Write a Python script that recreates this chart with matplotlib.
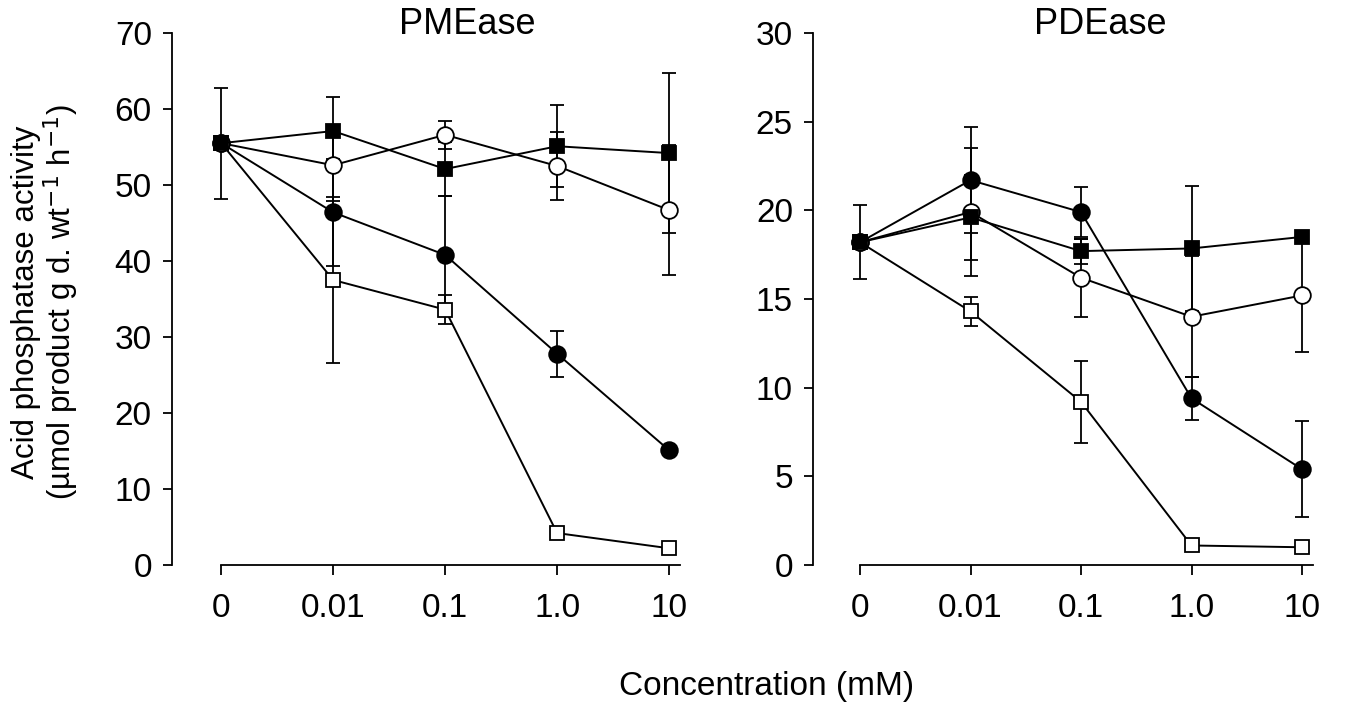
import matplotlib
matplotlib.use("Agg")
import matplotlib.pyplot as plt
import numpy as np

plt.rcParams["font.family"] = ["Liberation Sans", "DejaVu Sans"]

# x categories (evenly spaced, not log)
conc_labels = ["0", "0.01", "0.1", "1.0", "10"]

# PMEase
pme_fsq = [55.5, 57.1, 52.1, 55.1, 54.2]
pme_fsq_err = [7.3, 4.5, 3.6, 5.4, 10.5]
pme_oci = [55.5, 52.6, 56.6, 52.5, 46.7]
pme_oci_err = [0, 4.7, 1.8, 4.5, 8.5]
pme_fci = [55.5, 46.4, 40.8, 27.8, 15.1]
pme_fci_err = [0, 7.0, 7.7, 3.0, 0]
pme_osq = [55.5, 37.5, 33.6, 4.2, 2.2]
pme_osq_err = [0, 10.9, 1.9, 0, 0]

# PDEase
pde_fsq = [18.2, 19.6, 17.7, 17.85, 18.5]
pde_fsq_err = [2.1, 2.4, 0.7, 3.5, 0]
pde_oci = [18.2, 19.9, 16.2, 14.0, 15.2]
pde_oci_err = [0, 3.6, 2.2, 3.4, 3.2]
pde_fci = [18.2, 21.7, 19.9, 9.4, 5.4]
pde_fci_err = [0, 3.0, 1.4, 1.2, 2.7]
pde_osq = [18.2, 14.3, 9.2, 1.1, 1.0]
pde_osq_err = [0, 0.8, 2.3, 0, 0]

x = np.arange(len(conc_labels))

fig = plt.figure(figsize=(13.56, 7.05), dpi=100)
ax1 = fig.add_axes([0.1268, 0.1986, 0.379, 0.7546])
ax2 = fig.add_axes([0.5996, 0.1986, 0.3728, 0.7546])

styles = [
    ("s", "white"),   # open square
    ("o", "black"),   # filled circle
    ("o", "white"),   # open circle
    ("s", "black"),   # filled square
]


def draw_panel(ax, series, ymax, ystep, xl):
    for (vals, err), (mk, fc) in zip(series, styles):
        ax.errorbar(x, vals, yerr=err, color="black", marker=mk, markerfacecolor=fc,
                    markeredgecolor="black", markersize=12 if mk == "o" else 10.5,
                    markeredgewidth=1.3, linewidth=1.4, elinewidth=1.3,
                    capsize=5, capthick=1.3, clip_on=False)
    ax.set_ylim(0, ymax)
    ax.set_yticks(np.arange(0, ymax + 1, ystep))
    ax.set_xlim(xl, 4.15)
    ax.set_xticks(x)
    ax.set_xticklabels(conc_labels)
    ax.spines["top"].set_visible(False)
    ax.spines["right"].set_visible(False)
    ax.spines["bottom"].set_bounds(0, 4.1)
    for s in ("left", "bottom"):
        ax.spines[s].set_linewidth(1.3)
    ax.tick_params(axis="x", length=7, width=1.3, pad=13, labelsize=24)
    ax.tick_params(axis="y", length=6.5, width=1.3, pad=8, labelsize=24)


draw_panel(ax1, [(pme_osq, pme_osq_err), (pme_fci, pme_fci_err),
                 (pme_oci, pme_oci_err), (pme_fsq, pme_fsq_err)], 70, 10, -0.44)
draw_panel(ax2, [(pde_osq, pde_osq_err), (pde_fci, pde_fci_err),
                 (pde_oci, pde_oci_err), (pde_fsq, pde_fsq_err)], 30, 5, -0.425)

fig.text(467 / 1356, 1 - 24 / 705, "PMEase", fontsize=26, ha="center", va="center")
fig.text(1100 / 1356, 1 - 24 / 705, "PDEase", fontsize=26, ha="center", va="center")
fig.text(767 / 1356, 1 - 686 / 705, "Concentration (mM)", fontsize=24, ha="center", va="center")
fig.text(46 / 1356, 1 - 302 / 705,
         "Acid phosphatase activity\n(µmol product g d. wt$^{-1}$ h$^{-1}$)",
         fontsize=22.5, ha="center", va="center", rotation=90, linespacing=1.05)

fig.savefig("out.png", dpi=100)
